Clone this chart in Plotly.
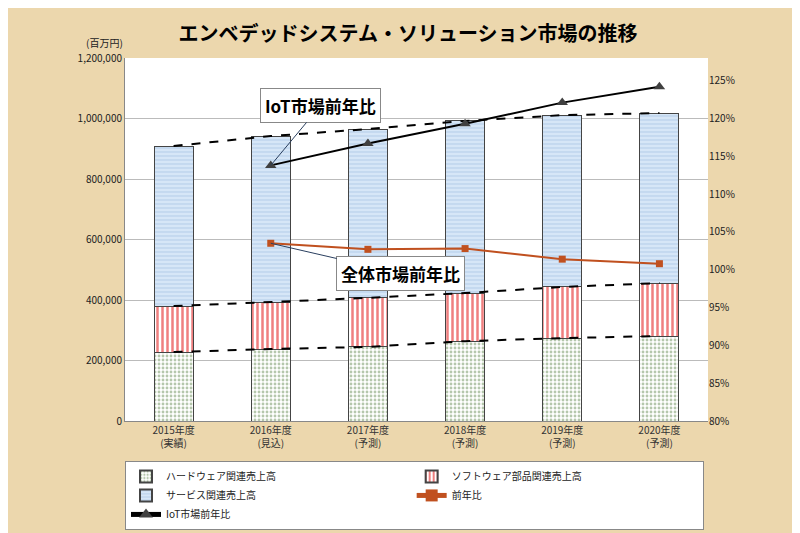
import plotly.graph_objects as go
import numpy as np

years = ["2015年度<br>(実績)", "2016年度<br>(見込)", "2017年度<br>(予測)",
         "2018年度<br>(予測)", "2019年度<br>(予測)", "2020年度<br>(予測)"]
hardware = [228000, 238000, 245000, 264000, 274000, 281000]
software = [152000, 155000, 162000, 159000, 169000, 175000]
services = [529000, 549000, 558000, 569000, 568000, 562000]
yoy = [None, 103.5, 102.7, 102.8, 101.4, 100.8]
iot_yoy = [None, 113.8, 116.7, 119.3, 122.1, 124.2]

hw_top = np.array(hardware)
sw_top = hw_top + np.array(software)
all_top = sw_top + np.array(services)

fig = go.Figure()
fig.add_trace(go.Bar(x=years, y=hardware, name="ハードウェア関連売上高",
                     marker=dict(color="white", line=dict(color="#444", width=1),
                                 pattern=dict(shape=".", fgcolor="#6b8f5a", size=4, solidity=0.4))))
fig.add_trace(go.Bar(x=years, y=software, name="ソフトウェア部品関連売上高",
                     marker=dict(color="white", line=dict(color="#444", width=1),
                                 pattern=dict(shape="|", fgcolor="#e00000", size=5, solidity=0.5))))
fig.add_trace(go.Bar(x=years, y=services, name="サービス関連売上高",
                     marker=dict(color="#d6e6f7", line=dict(color="#444", width=1),
                                 pattern=dict(shape="-", fgcolor="#9bbbe0", size=4, solidity=0.3))))

for tops in (hw_top, sw_top, all_top):
    fig.add_trace(go.Scatter(x=years, y=tops, mode="lines", showlegend=False,
                             line=dict(color="black", dash="dash", width=2), hoverinfo="skip"))

fig.add_trace(go.Scatter(x=years, y=yoy, yaxis="y2", name="前年比", mode="lines+markers",
                         line=dict(color="#c0501f", width=2),
                         marker=dict(symbol="square", size=7, color="#c0501f")))
fig.add_trace(go.Scatter(x=years, y=iot_yoy, yaxis="y2", name="IoT市場前年比", mode="lines+markers",
                         line=dict(color="black", width=2),
                         marker=dict(symbol="triangle-up", size=10, color="#404040")))

fig.add_annotation(x=years[1], y=iot_yoy[1], yref="y2", text="<b>IoT市場前年比</b>",
                   ax=50, ay=-60, showarrow=True, arrowhead=0, arrowwidth=1,
                   font=dict(size=17, color="black"), bgcolor="white",
                   bordercolor="#888", borderwidth=1, borderpad=4)
fig.add_annotation(x=years[1], y=yoy[1], yref="y2", text="<b>全体市場前年比</b>",
                   ax=130, ay=30, showarrow=True, arrowhead=0, arrowwidth=1,
                   font=dict(size=17, color="black"), bgcolor="white",
                   bordercolor="#888", borderwidth=1, borderpad=4)
fig.add_annotation(x=0.0, y=1.07, xref="paper", yref="paper", text="(百万円)",
                   xanchor="right", showarrow=False, font=dict(size=10))

fig.update_layout(
    width=800, height=533,
    barmode="stack", bargap=0.6,
    title=dict(text="<b>エンベデッドシステム・ソリューション市場の推移</b>", x=0.5, y=0.965,
               font=dict(size=20, color="black")),
    paper_bgcolor="#ecd7ad", plot_bgcolor="white",
    font=dict(family="Noto Sans CJK JP", size=10, color="#222"),
    margin=dict(l=117, r=100, t=50, b=120, autoexpand=False),
    xaxis=dict(showline=True, linecolor="#888", tickfont=dict(size=10, color="#333")),
    yaxis=dict(range=[0, 1200000], dtick=200000, tickformat=",d", gridcolor="#bbb",
               showline=True, linecolor="#888"),
    yaxis2=dict(range=[80, 128], overlaying="y", side="right",
                tickvals=list(range(80, 130, 5)), ticktext=[f"{v}%" for v in range(80, 130, 5)],
                showgrid=False),
    legend=dict(orientation="h", x=0.0, y=-0.11, xanchor="left", yanchor="top",
                bgcolor="white", bordercolor="#888", borderwidth=1, traceorder="normal",
                entrywidth=0.49, entrywidthmode="fraction", font=dict(size=10),
                tracegroupgap=0, itemsizing="constant"),
    showlegend=True,
)
fig.write_html("out.html")
